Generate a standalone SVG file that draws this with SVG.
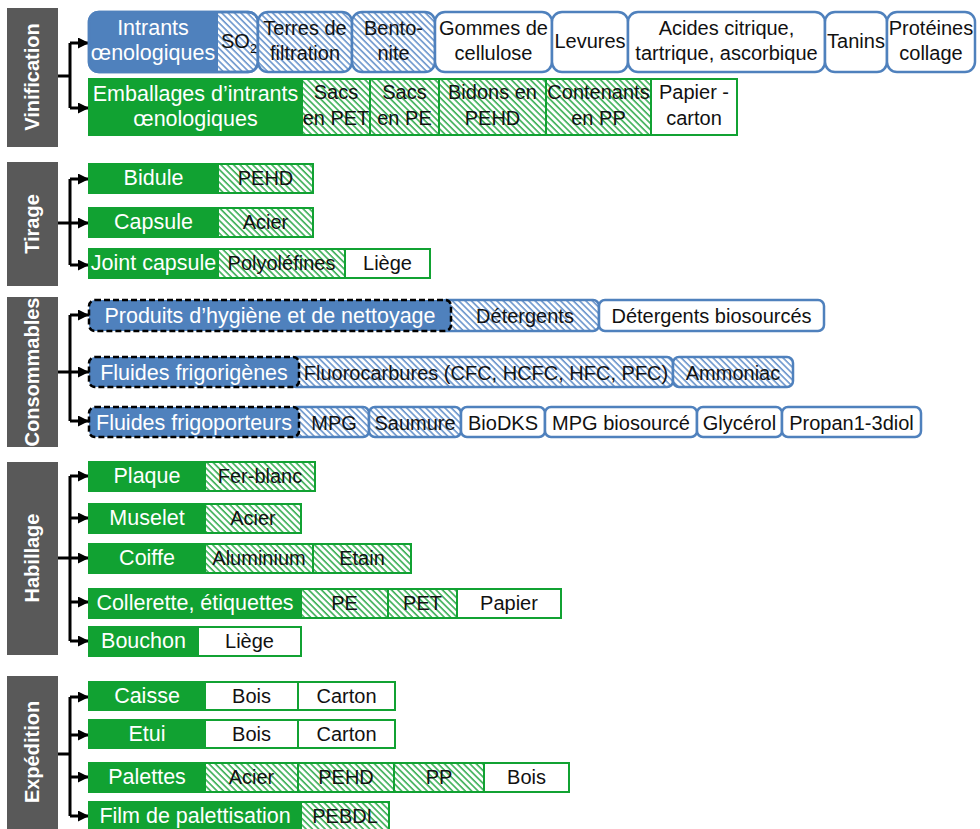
<svg xmlns="http://www.w3.org/2000/svg" width="980" height="829" viewBox="0 0 980 829">
<style>
.w{font-family:"Liberation Sans",Arial,sans-serif;font-size:21.5px;fill:#fff;text-anchor:middle}
.b{font-family:"Liberation Sans",Arial,sans-serif;font-size:20px;fill:#111;text-anchor:middle}
.t{font-family:"Liberation Sans",Arial,sans-serif;font-size:20px;font-weight:bold;fill:#fff;text-anchor:middle}
.bar{fill:#595959}
.gl{fill:#11A232}
.gi{stroke:#11A232;stroke-width:2}
.bi{stroke:#4F81BD;stroke-width:2.5}
.bl{fill:#4F81BD;stroke:#000;stroke-width:2.5;stroke-dasharray:6 3}
.hg{fill:url(#hg)}
.hb{fill:url(#hb)}
.wh{fill:#fff}
.c{fill:none;stroke:#000;stroke-width:3}
</style>
<defs>
<pattern id="hg" width="4.5" height="4.5" patternUnits="userSpaceOnUse" patternTransform="rotate(45)">
<rect width="4.5" height="4.5" fill="#fff"/><rect width="4.5" height="1.6" fill="#3AAE55"/>
</pattern>
<pattern id="hb" width="4.5" height="4.5" patternUnits="userSpaceOnUse" patternTransform="rotate(45)">
<rect width="4.5" height="4.5" fill="#fff"/><rect width="4.5" height="1.6" fill="#6A95CC"/>
</pattern>
<marker id="ar" markerUnits="userSpaceOnUse" markerWidth="11" markerHeight="11" refX="11" refY="5.5" orient="auto">
<path d="M0,0 L11,5.5 L0,11 z" fill="#000"/>
</marker>
</defs>

<g id="connectors">
<path class="c" d="M58,76 H70 M70,43 V108"/>
<path class="c" d="M70,43 H89" marker-end="url(#ar)"/>
<path class="c" d="M70,108 H89" marker-end="url(#ar)"/>
<path class="c" d="M58,223 H70 M70,179 V265"/>
<path class="c" d="M70,179 H89" marker-end="url(#ar)"/>
<path class="c" d="M70,223 H89" marker-end="url(#ar)"/>
<path class="c" d="M70,265 H89" marker-end="url(#ar)"/>
<path class="c" d="M58,372 H70 M70,315 V421"/>
<path class="c" d="M70,315 H89" marker-end="url(#ar)"/>
<path class="c" d="M70,372 H89" marker-end="url(#ar)"/>
<path class="c" d="M70,421 H89" marker-end="url(#ar)"/>
<path class="c" d="M58,558 H70 M70,476 V641"/>
<path class="c" d="M70,476 H89" marker-end="url(#ar)"/>
<path class="c" d="M70,518 H89" marker-end="url(#ar)"/>
<path class="c" d="M70,558 H89" marker-end="url(#ar)"/>
<path class="c" d="M70,602 H89" marker-end="url(#ar)"/>
<path class="c" d="M70,641 H89" marker-end="url(#ar)"/>
<path class="c" d="M58,754 H70 M70,697 V816"/>
<path class="c" d="M70,697 H89" marker-end="url(#ar)"/>
<path class="c" d="M70,735 H89" marker-end="url(#ar)"/>
<path class="c" d="M70,777 H89" marker-end="url(#ar)"/>
<path class="c" d="M70,816 H89" marker-end="url(#ar)"/>
</g>

<g id="cat-vinification"><rect class="bar" x="7" y="8" width="51" height="139"/><text class="t" transform="translate(39,77) rotate(-90)">Vinification</text></g>
<g id="cat-tirage"><rect class="bar" x="7" y="162" width="51" height="124"/><text class="t" transform="translate(39,224) rotate(-90)">Tirage</text></g>
<g id="cat-consommables"><rect class="bar" x="7" y="297" width="51" height="150"/><text class="t" transform="translate(39,372) rotate(-90)">Consommables</text></g>
<g id="cat-habillage"><rect class="bar" x="7" y="462" width="51" height="193"/><text class="t" transform="translate(39,558) rotate(-90)">Habillage</text></g>
<g id="cat-expedition"><rect class="bar" x="7" y="676" width="51" height="153"/><text class="t" transform="translate(39,752) rotate(-90)">Expédition</text></g>

<g id="intrants">
<rect class="bi hb" x="89" y="12" width="169" height="60" rx="10"/>
<path d="M99,12 H218 V72 H99 A10,10 0 0 1 89,62 V22 A10,10 0 0 1 99,12 z" fill="#4F81BD"/>
<rect x="89" y="12" width="169" height="60" rx="10" fill="none" class="bi"/>
<text class="w" x="153" y="35">Intrants</text><text class="w" x="153" y="60">œnologiques</text>
<text class="b" x="221" y="48" style="text-anchor:start">SO<tspan font-size="13" dy="5">2</tspan></text>
</g>
<g id="terres"><rect class="bi hb" x="258" y="12" width="94" height="60" rx="10"/><text class="b" x="305" y="35">Terres de</text><text class="b" x="305" y="60">filtration</text></g>
<g id="bentonite"><rect class="bi hb" x="352" y="12" width="83" height="60" rx="10"/><text class="b" x="393.5" y="35">Bento-</text><text class="b" x="393.5" y="60">nite</text></g>
<g id="gommes"><rect class="bi wh" x="435" y="12" width="117" height="60" rx="10"/><text class="b" x="493.5" y="35">Gommes de</text><text class="b" x="493.5" y="60">cellulose</text></g>
<g id="levures"><rect class="bi wh" x="552" y="12" width="76" height="60" rx="10"/><text class="b" x="590" y="48">Levures</text></g>
<g id="acides"><rect class="bi wh" x="628" y="12" width="197" height="60" rx="10"/><text class="b" x="726.5" y="35">Acides citrique,</text><text class="b" x="726.5" y="60">tartrique, ascorbique</text></g>
<g id="tanins"><rect class="bi wh" x="825" y="12" width="62" height="60" rx="10"/><text class="b" x="856" y="48">Tanins</text></g>
<g id="proteines"><rect class="bi wh" x="887" y="12" width="88" height="60" rx="10"/><text class="b" x="931" y="35">Protéines</text><text class="b" x="931" y="60">collage</text></g>

<g id="emballages">
<rect class="gl gi" x="89" y="79" width="213" height="56"/>
<text class="w" x="195.5" y="101">Emballages d’intrants</text><text class="w" x="195.5" y="126">œnologiques</text>
<rect class="gi hg" x="302" y="79" width="68" height="56"/><text class="b" x="336" y="99">Sacs</text><text class="b" x="336" y="125">en PET</text>
<rect class="gi hg" x="370" y="79" width="69" height="56"/><text class="b" x="404.5" y="99">Sacs</text><text class="b" x="404.5" y="125">en PE</text>
<rect class="gi hg" x="439" y="79" width="107" height="56"/><text class="b" x="492.5" y="99">Bidons en</text><text class="b" x="492.5" y="125">PEHD</text>
<rect class="gi hg" x="546" y="79" width="105" height="56"/><text class="b" x="598.5" y="99">Contenants</text><text class="b" x="598.5" y="125">en PP</text>
<rect class="gi wh" x="651" y="79" width="86" height="56"/><text class="b" x="694" y="99">Papier -</text><text class="b" x="694" y="125">carton</text>
</g>

<g id="bidule">
<rect class="gl gi" x="89" y="164" width="129" height="29"/><text class="w" x="153.5" y="185">Bidule</text>
<rect class="gi hg" x="218" y="164" width="95" height="29"/><text class="b" x="265.5" y="185">PEHD</text>
</g>
<g id="capsule">
<rect class="gl gi" x="89" y="208" width="129" height="29"/><text class="w" x="153.5" y="229">Capsule</text>
<rect class="gi hg" x="218" y="208" width="95" height="29"/><text class="b" x="265.5" y="229">Acier</text>
</g>
<g id="joint">
<rect class="gl gi" x="89" y="249" width="129" height="29"/><text class="w" x="153.5" y="270">Joint capsule</text>
<rect class="gi hg" x="218" y="249" width="127" height="29"/><text class="b" x="281.5" y="270">Polyoléfines</text>
<rect class="gi wh" x="345" y="249" width="85" height="29"/><text class="b" x="387.5" y="270">Liège</text>
</g>

<g id="produits">
<rect class="bi hb" x="440" y="300" width="159" height="31" rx="6"/>
<rect class="bi wh" x="599" y="300" width="225" height="31" rx="6"/>
<rect class="bl" x="89" y="300" width="362" height="31" rx="6"/>
<text class="w" x="270" y="323">Produits d’hygiène et de nettoyage</text>
<text class="b" x="525" y="323">Détergents</text>
<text class="b" x="711.5" y="323">Détergents biosourcés</text>
</g>
<g id="frigorigenes">
<rect class="bi hb" x="290" y="357" width="383" height="30" rx="6"/>
<rect class="bi hb" x="673" y="357" width="120" height="30" rx="6"/>
<rect class="bl" x="89" y="357" width="210" height="30" rx="6"/>
<text class="w" x="194" y="380">Fluides frigorigènes</text>
<text class="b" x="486" y="380">Fluorocarbures (CFC, HCFC, HFC, PFC)</text>
<text class="b" x="733" y="380">Ammoniac</text>
</g>
<g id="frigoporteurs">
<rect class="bi hb" x="290" y="407" width="79" height="30" rx="6"/>
<rect class="bi hb" x="369" y="407" width="92" height="30" rx="6"/>
<rect class="bi wh" x="461" y="407" width="84" height="30" rx="6"/>
<rect class="bi wh" x="545" y="407" width="152" height="30" rx="6"/>
<rect class="bi wh" x="697" y="407" width="85" height="30" rx="6"/>
<rect class="bi wh" x="782" y="407" width="139" height="30" rx="6"/>
<rect class="bl" x="89" y="407" width="210" height="30" rx="6"/>
<text class="w" x="194" y="430">Fluides frigoporteurs</text>
<text class="b" x="334" y="430">MPG</text>
<text class="b" x="415" y="430">Saumure</text>
<text class="b" x="503" y="430">BioDKS</text>
<text class="b" x="621" y="430">MPG biosourcé</text>
<text class="b" x="739.5" y="430">Glycérol</text>
<text class="b" x="851.5" y="430">Propan1-3diol</text>
</g>

<g id="plaque">
<rect class="gl gi" x="89" y="462" width="116" height="29"/><text class="w" x="147" y="483">Plaque</text>
<rect class="gi hg" x="205" y="462" width="110" height="29"/><text class="b" x="260" y="483">Fer-blanc</text>
</g>
<g id="muselet">
<rect class="gl gi" x="89" y="504" width="116" height="29"/><text class="w" x="147" y="525">Muselet</text>
<rect class="gi hg" x="205" y="504" width="96" height="29"/><text class="b" x="253" y="525">Acier</text>
</g>
<g id="coiffe">
<rect class="gl gi" x="89" y="544" width="116" height="29"/><text class="w" x="147" y="565">Coiffe</text>
<rect class="gi hg" x="205" y="544" width="108" height="29"/><text class="b" x="259" y="565">Aluminium</text>
<rect class="gi hg" x="313" y="544" width="98" height="29"/><text class="b" x="362" y="565">Etain</text>
</g>
<g id="collerette">
<rect class="gl gi" x="89" y="589" width="212" height="29"/><text class="w" x="195" y="610">Collerette, étiquettes</text>
<rect class="gi hg" x="301" y="589" width="87" height="29"/><text class="b" x="344.5" y="610">PE</text>
<rect class="gi hg" x="388" y="589" width="69" height="29"/><text class="b" x="422.5" y="610">PET</text>
<rect class="gi wh" x="457" y="589" width="104" height="29"/><text class="b" x="509" y="610">Papier</text>
</g>
<g id="bouchon">
<rect class="gl gi" x="89" y="627" width="109" height="29"/><text class="w" x="143.5" y="648">Bouchon</text>
<rect class="gi wh" x="198" y="627" width="103" height="29"/><text class="b" x="249.5" y="648">Liège</text>
</g>

<g id="caisse">
<rect class="gl gi" x="89" y="682" width="116" height="28"/><text class="w" x="147" y="703">Caisse</text>
<rect class="gi wh" x="205" y="682" width="93" height="28"/><text class="b" x="251.5" y="703">Bois</text>
<rect class="gi wh" x="298" y="682" width="97" height="28"/><text class="b" x="346.5" y="703">Carton</text>
</g>
<g id="etui">
<rect class="gl gi" x="89" y="720" width="116" height="28"/><text class="w" x="147" y="741">Etui</text>
<rect class="gi wh" x="205" y="720" width="93" height="28"/><text class="b" x="251.5" y="741">Bois</text>
<rect class="gi wh" x="298" y="720" width="97" height="28"/><text class="b" x="346.5" y="741">Carton</text>
</g>
<g id="palettes">
<rect class="gl gi" x="89" y="763" width="116" height="29"/><text class="w" x="147" y="784">Palettes</text>
<rect class="gi hg" x="205" y="763" width="93" height="29"/><text class="b" x="251.5" y="784">Acier</text>
<rect class="gi hg" x="298" y="763" width="96" height="29"/><text class="b" x="346" y="784">PEHD</text>
<rect class="gi hg" x="394" y="763" width="90" height="29"/><text class="b" x="439" y="784">PP</text>
<rect class="gi wh" x="484" y="763" width="85" height="29"/><text class="b" x="526.5" y="784">Bois</text>
</g>
<g id="film">
<rect class="gl gi" x="89" y="802" width="212" height="28"/><text class="w" x="195" y="823">Film de palettisation</text>
<rect class="gi hg" x="301" y="802" width="88" height="28"/><text class="b" x="345" y="823">PEBDL</text>
</g>
</svg>
